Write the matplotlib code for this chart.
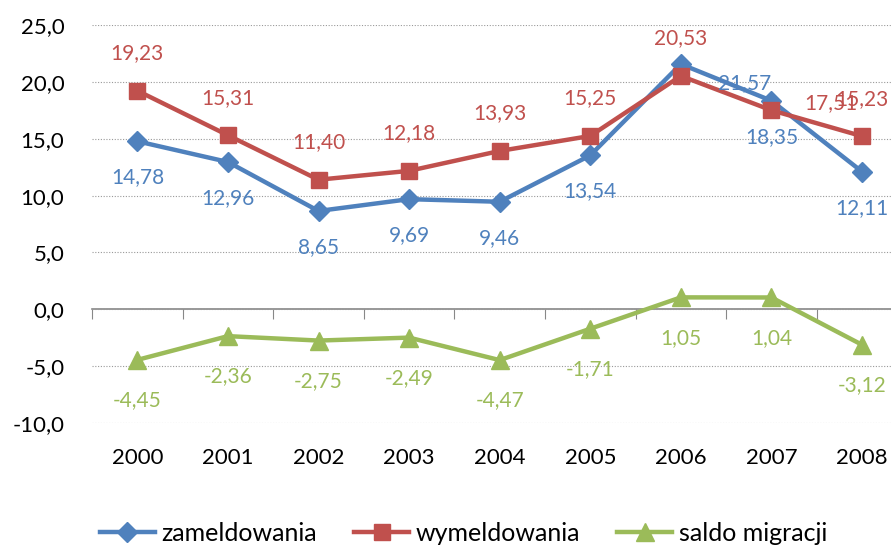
import matplotlib
matplotlib.use('Agg')
import matplotlib.pyplot as plt
import matplotlib.ticker as mticker
import numpy as np

lata = ['2000', '2001', '2002', '2003', '2004', '2005', '2006', '2007', '2008']
zameldowania = [14.78, 12.96, 8.65, 9.69, 9.46, 13.54, 21.57, 18.35, 12.11]
wymeldowania = [19.23, 15.31, 11.40, 12.18, 13.93, 15.25, 20.53, 17.51, 15.23]
saldo = [-4.45, -2.36, -2.75, -2.49, -4.47, -1.71, 1.05, 1.04, -3.12]

plt.rcParams['font.family'] = ['Lato', 'DejaVu Sans']

niebieski = '#4F81BD'
czerwony = '#C0504D'
zielony = '#9BBB59'

fig = plt.figure(figsize=(8.91, 5.45), dpi=100)
ax = fig.add_axes([0.1033, 0.2239, 0.915, 0.730])
x = np.arange(len(lata))

ax.plot(x, zameldowania, color=niebieski, lw=3.2, marker='D', ms=10, label='zameldowania')
ax.plot(x, wymeldowania, color=czerwony, lw=3.2, marker='s', ms=12, label='wymeldowania')
ax.plot(x, saldo, color=zielony, lw=3.2, marker='^', ms=13, label='saldo migracji')

def fmt(v):
    return ('%.2f' % v).replace('.', ',')

fs = 15
for i, v in enumerate(zameldowania):
    dx, dy = 0, -26
    if i == 6:
        dx, dy = 46, -14
    ax.annotate(fmt(v), (i, v), xytext=(dx, dy), textcoords='offset points',
                ha='center', va='center', color=niebieski, fontsize=fs)
for i, v in enumerate(wymeldowania):
    dx, dy = 0, 27
    if i == 7:
        dx, dy = 43, 5
    ax.annotate(fmt(v), (i, v), xytext=(dx, dy), textcoords='offset points',
                ha='center', va='center', color=czerwony, fontsize=fs)
for i, v in enumerate(saldo):
    ax.annotate(fmt(v), (i, v), xytext=(0, -29), textcoords='offset points',
                ha='center', va='center', color=zielony, fontsize=fs)

ax.set_xlim(-0.5, len(lata) - 0.5)
ax.set_ylim(-10, 25)
ax.set_yticks(np.arange(-10, 26, 5))
ax.yaxis.set_major_formatter(mticker.FuncFormatter(lambda v, p: ('%.1f' % v).replace('.', ',')))
ax.tick_params(axis='y', length=0, pad=20, labelsize=16)
ax.grid(axis='y', color='#999999', ls=(0, (1, 1.5)), lw=0.8)
ax.set_axisbelow(True)
for s in ax.spines.values():
    s.set_visible(False)

ax.set_xticks(x)
ax.set_xticklabels(lata)
ax.tick_params(axis='x', length=0, pad=18, labelsize=16)

# axis line at zero with boundary ticks
sec = ax.secondary_xaxis(10 / 35)
sec.set_xticks(np.arange(-0.5, len(lata), 1))
sec.tick_params(axis='x', direction='out', length=7, color='#888888', labelbottom=False, labeltop=False)
sec.spines['bottom'].set_color('#888888')
sec.spines['bottom'].set_linewidth(1.2)

leg = fig.legend(loc='center left', bbox_to_anchor=(0.112, 0.022), ncol=3, frameon=False,
                 fontsize=18, handlelength=2.2, columnspacing=1.5, handletextpad=0.25,
                 borderpad=0, borderaxespad=0)

fig.savefig('out.png', dpi=100)
